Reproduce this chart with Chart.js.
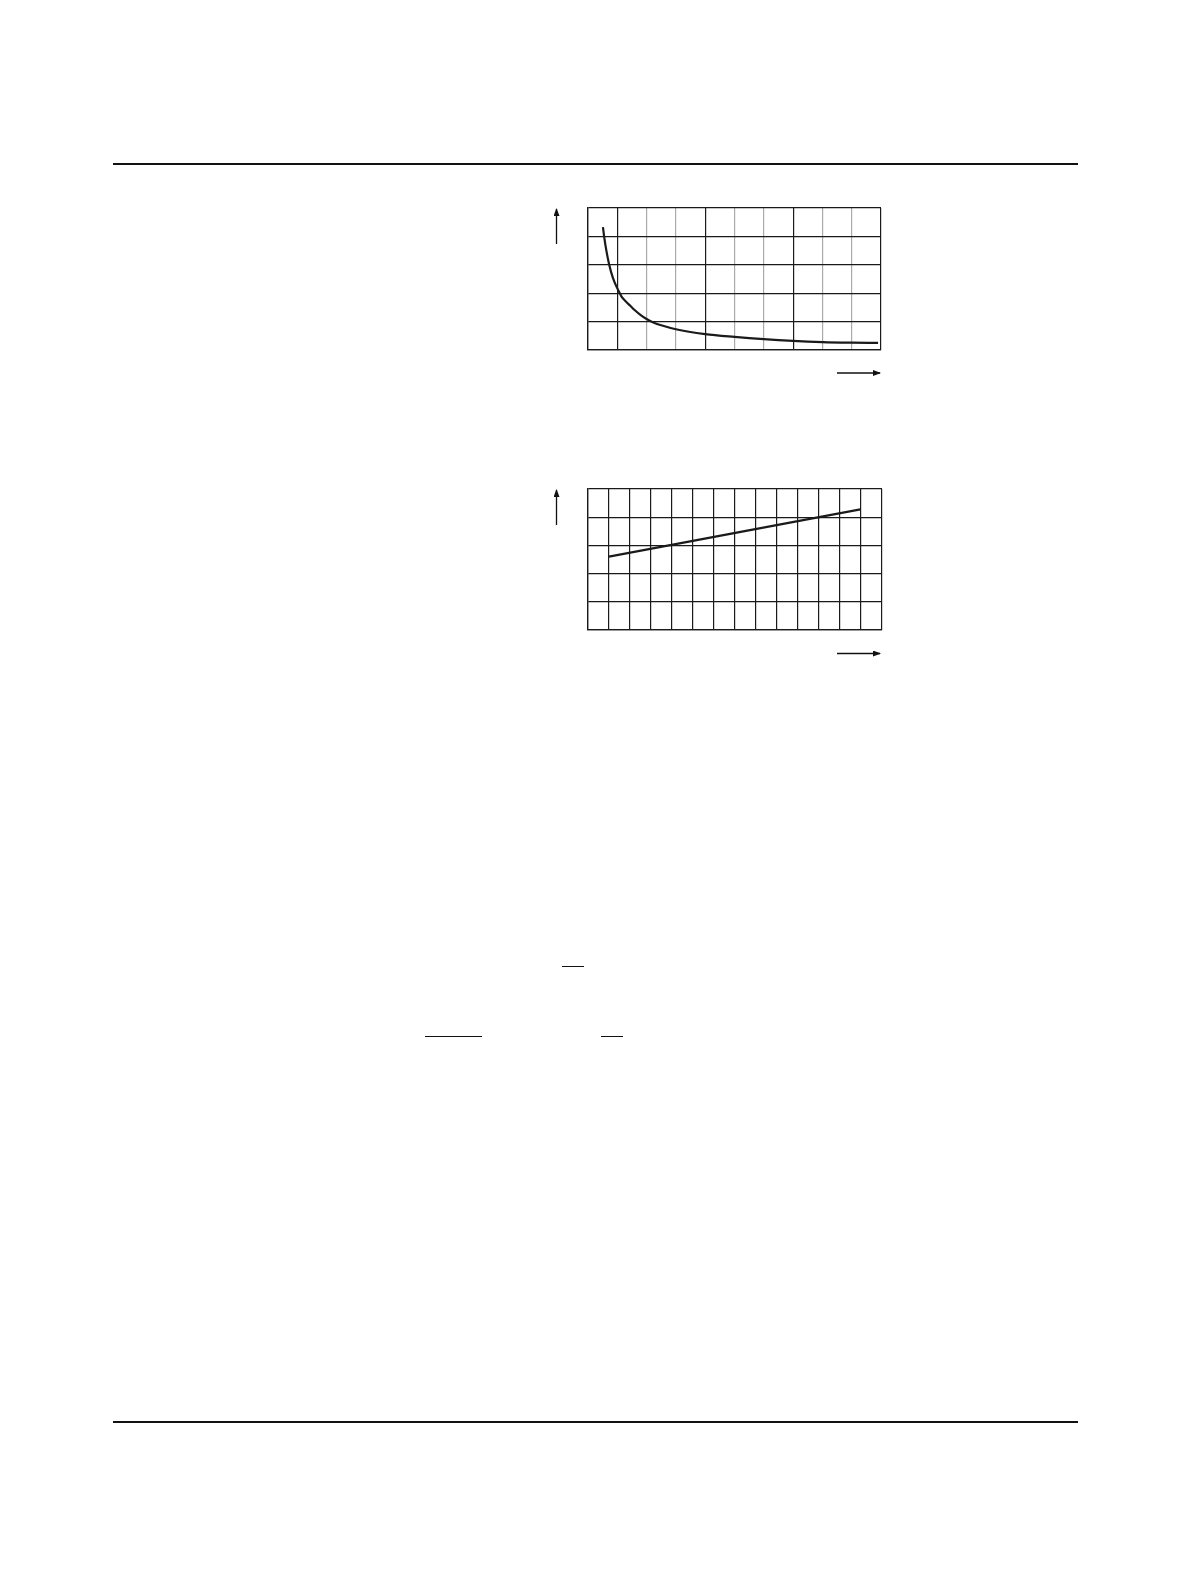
<!DOCTYPE html>
<html>
<head>
<meta charset="utf-8">
<script src="https://cdn.jsdelivr.net/npm/chart.js@4.4.1/dist/chart.umd.min.js"></script>
<style>
  html, body { margin: 0; padding: 0; background: #fff; }
  .page { position: relative; width: 1190px; height: 1580px; background: #fff; overflow: hidden; font-family: "Liberation Sans", Arial, sans-serif; }
  .rule { position: absolute; background: #111; }
  .box { position: absolute; }
  svg.arrows { position: absolute; left: 0; top: 0; }
</style>
</head>
<body>
<div class="page">
  <div class="rule" style="left:113px; top:163px; width:965px; height:1.5px;"></div>
  <div class="rule" style="left:113px; top:1421px; width:965px; height:1.5px;"></div>

  <div class="box" style="left:578px; top:198px; width:313px; height:162px;">
    <canvas id="chartTop" width="313" height="162"></canvas>
  </div>
  <div class="box" style="left:578px; top:479px; width:314px; height:161px;">
    <canvas id="chartBottom" width="314" height="161"></canvas>
  </div>

  <svg class="arrows" width="1190" height="1580">
    <defs>
      <marker id="head" markerWidth="8" markerHeight="6" refX="7" refY="3" orient="auto" markerUnits="userSpaceOnUse">
        <path d="M0,0 L8,3 L0,6 Z" fill="#111"/>
      </marker>
    </defs>
    <line x1="556.5" y1="244" x2="556.5" y2="209" stroke="#111" stroke-width="1.3" marker-end="url(#head)"/>
    <line x1="837" y1="373" x2="880" y2="373" stroke="#111" stroke-width="1.3" marker-end="url(#head)"/>
    <line x1="556.5" y1="525" x2="556.5" y2="490" stroke="#111" stroke-width="1.3" marker-end="url(#head)"/>
    <line x1="837" y1="653.5" x2="880" y2="653.5" stroke="#111" stroke-width="1.3" marker-end="url(#head)"/>
  </svg>

  <div class="rule" style="left:562px; top:965.5px; width:22px; height:1.4px;"></div>
  <div class="rule" style="left:425px; top:1035.5px; width:57px; height:1.4px;"></div>
  <div class="rule" style="left:601px; top:1035.5px; width:22px; height:1.4px;"></div>
</div>

<script>
// top chart: falling curve, x in grid columns (0-10), y in grid rows (0-5)
const curveX = [0.51, 0.55, 0.63, 0.72, 0.85, 1.0, 1.08, 1.15, 1.3, 1.45, 1.6, 1.8, 2.0, 2.25, 2.5, 3.0, 4.0, 5.0, 6.0, 7.0, 8.0, 9.0, 9.9];
const curveY = [4.33, 4.0, 3.48, 3.02, 2.54, 2.17, 2.01, 1.87, 1.70, 1.55, 1.40, 1.23, 1.09, 0.96, 0.87, 0.73, 0.56, 0.46, 0.38, 0.32, 0.28, 0.26, 0.25];
// which vertical grid lines of the top chart are dark
const topDarkCols = [0, 1, 4, 7, 10];

// bottom chart: straight rising line, x in columns (0-14), y in rows (0-5)
const lineX = [1.0, 12.97];
const lineY = [2.60, 4.28];

const ink = '#1a1a1a';
const lightInk = '#aaaaaa';

function toPoints(xs, ys) {
  return xs.map((x, i) => ({ x: x, y: ys[i] }));
}

function gridScale(max, colorFn) {
  return {
    type: 'linear',
    min: 0,
    max: max,
    ticks: { display: false, stepSize: 1 },
    grid: { color: colorFn, lineWidth: 1.2, drawTicks: false },
    border: { display: true, color: ink, width: 1.3 }
  };
}

function makeChart(id, points, xMax, xColor) {
  return new Chart(document.getElementById(id), {
    type: 'scatter',
    data: {
      datasets: [{
        data: points,
        showLine: true,
        borderColor: ink,
        borderWidth: 2.2,
        pointRadius: 0,
        cubicInterpolationMode: 'monotone',
        fill: false
      }]
    },
    options: {
      responsive: false,
      animation: false,
      layout: { padding: 10 },
      plugins: { legend: { display: false }, tooltip: { enabled: false } },
      scales: {
        x: gridScale(xMax, xColor),
        y: gridScale(5, () => ink)
      }
    }
  });
}

// top chart
makeChart('chartTop', toPoints(curveX, curveY), 10,
  ctx => topDarkCols.includes(ctx.tick ? ctx.tick.value : -1) ? ink : lightInk);

// bottom chart
makeChart('chartBottom', toPoints(lineX, lineY), 14, () => ink);
</script>
</body>
</html>
